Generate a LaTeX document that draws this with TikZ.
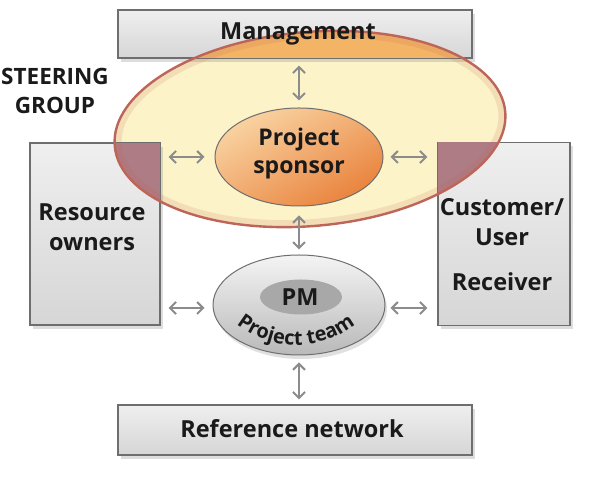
\documentclass[tikz,border=0pt]{standalone}
\usepackage{fontspec}
\setmainfont{Open Sans}
\usetikzlibrary{shapes.geometric,arrows.meta,shadows,decorations.text,calc}
\definecolor{boxline}{HTML}{6E6E6E}
\definecolor{boxtop}{HTML}{EFEFEF}
\definecolor{boxbot}{HTML}{D6D6D6}
\definecolor{steerfill}{HTML}{FCF3C8}
\definecolor{steerline}{HTML}{BD6558}
\definecolor{orangeov}{HTML}{F4B466}
\definecolor{mauveov}{HTML}{AE7C84}
\definecolor{arrgray}{HTML}{8C8C8C}
\definecolor{sptop}{HTML}{F9D3A2}
\definecolor{spbot}{HTML}{E9833D}
\definecolor{pmtop}{HTML}{F4F4F4}
\definecolor{pmbot}{HTML}{B9B9B9}
\definecolor{pminner}{HTML}{A8A8A8}
\definecolor{txt}{HTML}{1A1A1A}
\begin{document}
\begin{tikzpicture}[x=1pt,y=1pt,
  box/.style={draw=boxline, line width=1.3pt, top color=boxtop, bottom color=boxbot,
    inner sep=0pt, drop shadow={shadow xshift=3pt, shadow yshift=-4pt, opacity=0.22, fill=black!60}},
  arr/.style={draw=arrgray, line width=2pt, {Straight Barb[length=6pt,width=12pt]}-{Straight Barb[length=6pt,width=12pt]}},
  lbl/.style={text=txt, font=\bfseries\fontsize{23.5}{30}\selectfont, align=center, inner sep=0pt},
  steershape/.style={shift={(310,352)}, rotate=5}
]
\useasboundingbox (0,0) rectangle (600,481);
\fill[white] (0,0) rectangle (600,481);

% steering group fill
\fill[steerfill, steershape] (0,0) ellipse [x radius=196, y radius=97];

% boxes
\node[box, minimum width=354pt, minimum height=48pt] (mgmt) at (295,447) {};
\node[box, minimum width=354pt, minimum height=50pt] (refn) at (295,51) {};
\node[box, minimum width=130pt, minimum height=182pt] (res) at (95,247) {};
\node[box, minimum width=132pt, minimum height=183pt] (cust) at (504,247) {};

% overlaps of steering group with boxes
\begin{scope}
  \clip[steershape] (0,0) ellipse [x radius=196, y radius=97];
  \fill[orangeov] ([shift={(0.65pt,0.65pt)}]mgmt.south west) rectangle ([shift={(-0.65pt,-0.65pt)}]mgmt.north east);
  \fill[mauveov] ([shift={(0.65pt,0.65pt)}]res.south west) rectangle ([shift={(-0.65pt,-0.65pt)}]res.north east);
  \fill[mauveov] ([shift={(0.65pt,0.65pt)}]cust.south west) rectangle ([shift={(-0.65pt,-0.65pt)}]cust.north east);
\end{scope}

% steering group rim
\draw[steerline, line width=7pt, opacity=0.15, steershape] (0,0) ellipse [x radius=192.5, y radius=93.5];
\draw[steerline, line width=2.4pt, steershape] (0,0) ellipse [x radius=196, y radius=97];

% central ellipses
\node[ellipse, draw=boxline, line width=1pt, top color=sptop, bottom color=spbot, shading angle=30,
  minimum width=168pt, minimum height=98pt, inner sep=0pt] (sponsor) at (299,324) {};
\node[ellipse, draw=boxline, line width=1pt, top color=pmtop, bottom color=pmbot,
  minimum width=172pt, minimum height=100pt, inner sep=0pt,
  drop shadow={shadow xshift=2pt, shadow yshift=-4pt, opacity=0.2, fill=black!60}] (pm) at (299,176) {};
\node[ellipse, fill=pminner, minimum width=82pt, minimum height=35pt, inner sep=0pt] (pmin) at (301,184) {};

% connectors
\draw[arr, shorten <=7pt, shorten >=7pt] (sponsor.north |- mgmt.south) -- (sponsor.north);
\draw[arr, shorten <=8pt, shorten >=10pt] (res.east |- sponsor.west) -- (sponsor.west);
\draw[arr, shorten <=7pt, shorten >=10pt] (sponsor.east) -- (cust.west |- sponsor.east);
\draw[arr, shorten <=9pt, shorten >=5pt] (sponsor.south) -- (pm.north);
\draw[arr, shorten <=8pt, shorten >=8pt] ([yshift=-3pt]res.east |- pm.west) -- ([yshift=-3pt]pm.west);
\draw[arr, shorten <=5pt, shorten >=10pt] ([yshift=-3pt]pm.east) -- ([yshift=-3pt]cust.west |- pm.east);
\draw[arr, shorten <=7pt, shorten >=5pt] (pm.south) -- (pm.south |- refn.north);

% texts
\node[lbl] (mgmtT) at (298,447) {Management};
\node[lbl] (refT) at (292,52) {Reference network};
\node[lbl] (resT) at (92,254) {Resource\\owners};
\node[lbl, anchor=north] (custT) at (502,283) {Customer/\\User\\[15pt]Receiver};
\node[lbl, font=\bfseries\fontsize{22.5}{29}\selectfont] (steerT) at (55,390) {STEERING\\GROUP};
\node[lbl, font=\bfseries\fontsize{23}{28}\selectfont] (spT) at (299,327) {Project\\sponsor};
\node[lbl] (pmT) at (300,184) {PM};
\path[decorate, decoration={text along path, text align=center,
  text={|\bfseries\fontsize{20}{20}\selectfont\color{txt}|Project team}}]
  (296,231) ++(200:95) arc [start angle=200, end angle=340, radius=95];
\end{tikzpicture}
\end{document}
